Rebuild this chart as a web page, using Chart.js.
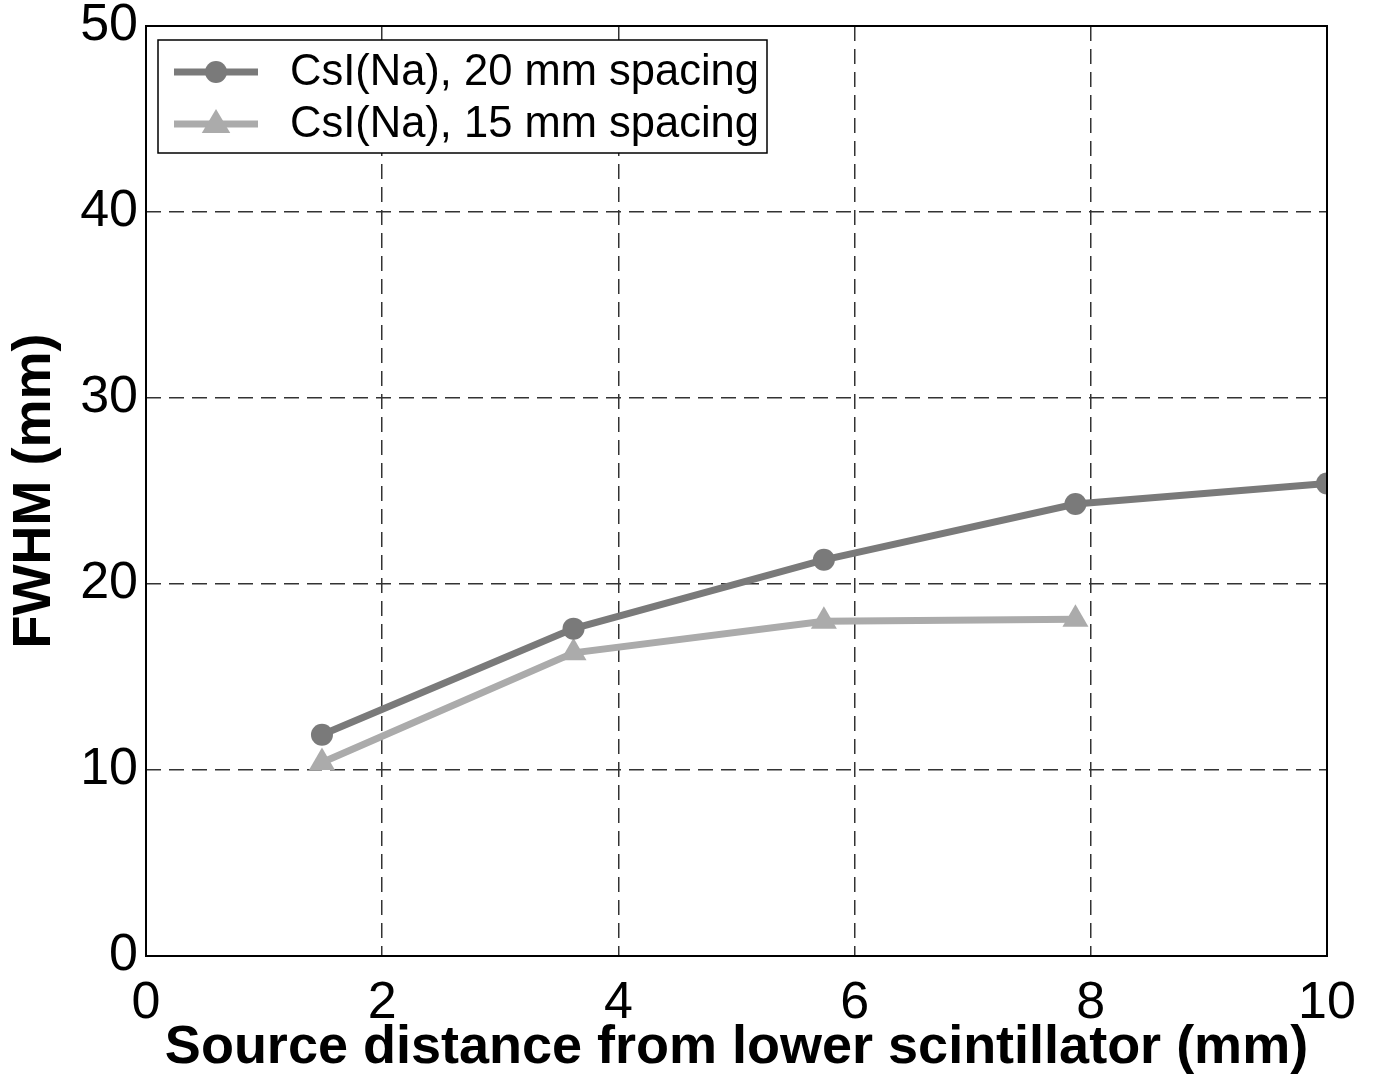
<!DOCTYPE html>
<html>
<head>
<meta charset="utf-8">
<script src="https://cdn.jsdelivr.net/npm/chart.js@4/dist/chart.umd.min.js"></script>
<style>
  html, body { margin: 0; padding: 0; background: #fff; }
  #wrap { width: 1376px; height: 1081px; }
</style>
</head>
<body>
<div id="wrap"><canvas id="fwhmChart" width="1376" height="1081"></canvas></div>
<script>
// source distance from lower scintillator (mm)
const distance = [1.49, 3.62, 5.74, 7.87, 10];
// FWHM (mm) for each spacing
const fwhm20 = [11.9, 17.6, 21.3, 24.3, 25.4];
const fwhm15 = [10.4, 16.3, 18.0, 18.1];
const seriesNames = ['CsI(Na), 20 mm spacing', 'CsI(Na), 15 mm spacing'];
const xTicks = [0, 2, 4, 6, 8, 10];
const yTicks = [0, 10, 20, 30, 40, 50];

const toPoints = (ys) => ys.map((y, i) => ({ x: distance[i], y: y }));

// box around the whole plot area + legend inside it
const frameAndLegend = {
    id: 'frameAndLegend',
    afterDatasetsDraw(chart) {
        const ctx = chart.ctx;
        const a = chart.chartArea;
        ctx.save();
        ctx.strokeStyle = '#000';
        ctx.lineWidth = 2;
        ctx.setLineDash([]);
        ctx.strokeRect(a.left, a.top, a.right - a.left, a.bottom - a.top);

        // legend box
        const bx = 158, by = 40, bw = 609, bh = 113;
        ctx.fillStyle = '#fff';
        ctx.fillRect(bx, by, bw, bh);
        ctx.lineWidth = 1.5;
        ctx.strokeRect(bx, by, bw, bh);

        const rows = [72, 124];
        chart.data.datasets.forEach((ds, i) => {
            const y = rows[i];
            ctx.strokeStyle = ds.borderColor;
            ctx.lineWidth = ds.borderWidth;
            ctx.beginPath();
            ctx.moveTo(174, y);
            ctx.lineTo(258, y);
            ctx.stroke();
            ctx.fillStyle = ds.pointBackgroundColor;
            ctx.beginPath();
            if (ds.pointStyle === 'triangle') {
                const r = ds.pointRadius;
                ctx.moveTo(216, y - r);
                ctx.lineTo(216 + r * 0.95, y + r * 0.6);
                ctx.lineTo(216 - r * 0.95, y + r * 0.6);
                ctx.closePath();
            } else {
                ctx.arc(216, y, ds.pointRadius, 0, Math.PI * 2);
            }
            ctx.fill();
            ctx.fillStyle = '#000';
            ctx.font = '43.5px "Liberation Sans", Arial, sans-serif';
            ctx.textBaseline = 'middle';
            ctx.textAlign = 'left';
            ctx.fillText(ds.label, 290, y + 1);
        });
        ctx.restore();
    }
};

const gridOpts = {
    color: '#333',
    lineWidth: 1.5,
    drawTicks: false
};

new Chart(document.getElementById('fwhmChart').getContext('2d'), {
    type: 'line',
    data: {
        datasets: [{
            label: seriesNames[0],
            data: toPoints(fwhm20),
            borderColor: '#7a7a7a',
            backgroundColor: '#7a7a7a',
            pointBackgroundColor: '#7a7a7a',
            pointBorderWidth: 0,
            borderWidth: 7,
            pointRadius: 11,
            pointStyle: 'circle',
            tension: 0
        }, {
            label: seriesNames[1],
            data: toPoints(fwhm15),
            borderColor: '#ababab',
            backgroundColor: '#ababab',
            pointBackgroundColor: '#ababab',
            pointBorderWidth: 0,
            borderWidth: 7,
            pointRadius: 15,
            pointStyle: 'triangle',
            tension: 0
        }]
    },
    options: {
        responsive: false,
        animation: false,
        layout: { padding: { top: 26, right: 49, left: 0, bottom: 0 } },
        plugins: {
            legend: { display: false },
            tooltip: { enabled: false }
        },
        scales: {
            x: {
                type: 'linear',
                min: 0,
                max: 10,
                afterFit(scale) { scale.height = 125; },
                afterBuildTicks(scale) { scale.ticks = xTicks.map(v => ({ value: v })); },
                grid: gridOpts,
                border: { display: false, dash: [15, 8] },
                ticks: {
                    color: '#000',
                    padding: 16,
                    maxRotation: 0,
                    font: { family: '"Liberation Sans", Arial, sans-serif', size: 52 }
                },
                title: {
                    display: true,
                    text: 'Source distance from lower scintillator (mm)',
                    color: '#000',
                    padding: { top: 0, bottom: 0 },
                    font: { family: '"Liberation Sans", Arial, sans-serif', size: 54, weight: 'bold' }
                }
            },
            y: {
                min: 0,
                max: 50,
                afterFit(scale) {
                    scale.width = 146;
                    scale.paddingTop = 0;
                    scale.paddingBottom = 0;
                },
                afterBuildTicks(scale) { scale.ticks = yTicks.map(v => ({ value: v })); },
                grid: gridOpts,
                border: { display: false, dash: [15, 8] },
                ticks: {
                    color: '#000',
                    padding: 8,
                    font: { family: '"Liberation Sans", Arial, sans-serif', size: 52 }
                },
                title: {
                    display: true,
                    text: 'FWHM (mm)',
                    color: '#000',
                    padding: { top: 3, bottom: 0 },
                    font: { family: '"Liberation Sans", Arial, sans-serif', size: 54, weight: 'bold' }
                }
            }
        }
    },
    plugins: [frameAndLegend]
});
</script>
</body>
</html>
